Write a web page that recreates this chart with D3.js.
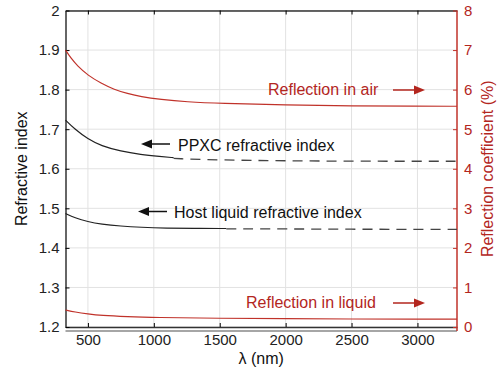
<!DOCTYPE html>
<html>
<head>
<meta charset="utf-8">
<script src="https://cdn.jsdelivr.net/npm/d3@7"></script>
<style>
  body { margin: 0; background: #fff; }
  text { font-family: "Liberation Sans", Arial, sans-serif; }
</style>
</head>
<body>
<div id="chart"></div>
<script>
// wavelength (nm) samples
const airLambda = [330, 370, 420, 500, 600, 700, 800, 900, 1050, 1250, 1500, 2000, 2500, 3000, 3300];
const airRefl = [7.0, 6.8, 6.6, 6.36, 6.16, 6.0, 5.9, 5.82, 5.75, 5.69, 5.65, 5.61, 5.59, 5.58, 5.58];

const liqLambda = [330, 400, 500, 600, 800, 1000, 1500, 2000, 2500, 3000, 3300];
const liqRefl = [0.43, 0.38, 0.33, 0.29, 0.26, 0.24, 0.22, 0.21, 0.2, 0.2, 0.2];

const ppxcLambda = [330, 400, 500, 600, 750, 900, 1050, 1150];
const ppxcIndex = [1.723, 1.700, 1.675, 1.658, 1.644, 1.636, 1.631, 1.628];
const ppxcDashLambda = [1150, 1500, 2000, 2500, 3000, 3300];
const ppxcDashIndex = [1.626, 1.622, 1.620, 1.619, 1.619, 1.619];

const hostLambda = [330, 400, 500, 600, 750, 900, 1100, 1300, 1550];
const hostIndex = [1.487, 1.476, 1.466, 1.460, 1.455, 1.452, 1.450, 1.449, 1.449];
const hostDashLambda = [1550, 2000, 2500, 3000, 3300];
const hostDashIndex = [1.448, 1.448, 1.447, 1.447, 1.447];

const xTicks = [500, 1000, 1500, 2000, 2500, 3000];
const yLeftTicks = [1.2, 1.3, 1.4, 1.5, 1.6, 1.7, 1.8, 1.9, 2];
const yRightTicks = [0, 1, 2, 3, 4, 5, 6, 7, 8];

const width = 497, height = 379;
const margin = { top: 10.5, right: 40, bottom: 52, left: 65.5 };
const red = "#c0322a";
const redText = "#b3261e";

const svg = d3.select("#chart").append("svg")
  .attr("width", width).attr("height", height);

const x = d3.scaleLinear().domain([330, 3300]).range([margin.left, width - margin.right]);
const yL = d3.scaleLinear().domain([1.2, 2]).range([height - margin.bottom, margin.top]);
const yR = d3.scaleLinear().domain([0, 8]).range([height - margin.bottom, margin.top]);

// grid
const grid = svg.append("g").attr("stroke", "#e2e2e2").attr("stroke-width", 1);
grid.selectAll(".gx").data(xTicks).enter().append("line")
  .attr("x1", d => x(d)).attr("x2", d => x(d))
  .attr("y1", margin.top).attr("y2", height - margin.bottom);
grid.selectAll(".gy").data(yLeftTicks).enter().append("line")
  .attr("x1", margin.left).attr("x2", width - margin.right)
  .attr("y1", d => yL(d)).attr("y2", d => yL(d));

// second (shadow) bottom line under the axis
svg.append("line")
  .attr("x1", margin.left).attr("x2", width - margin.right)
  .attr("y1", height - margin.bottom + 4).attr("y2", height - margin.bottom + 4)
  .attr("stroke", "#888").attr("stroke-width", 1.5);

// axes
const xAxis = svg.append("g")
  .attr("transform", `translate(0,${height - margin.bottom})`)
  .call(d3.axisBottom(x).tickValues(xTicks).tickSizeInner(-4).tickSizeOuter(0).tickPadding(7)
    .tickFormat(d3.format("d")));
xAxis.select(".domain").attr("stroke", "#333").attr("stroke-width", 1.5);
xAxis.selectAll("text").attr("font-size", 15).attr("fill", "#222");

const xTop = svg.append("g")
  .attr("transform", `translate(0,${margin.top})`)
  .call(d3.axisTop(x).tickValues(xTicks).tickSizeInner(-4).tickSizeOuter(0).tickFormat(""));
xTop.select(".domain").attr("stroke", "#333").attr("stroke-width", 1.5);

const yAxisL = svg.append("g")
  .attr("transform", `translate(${margin.left},0)`)
  .call(d3.axisLeft(yL).tickValues(yLeftTicks).tickSizeInner(-4).tickSizeOuter(0).tickPadding(6)
    .tickFormat(d3.format("")));
yAxisL.select(".domain").attr("stroke", "#333").attr("stroke-width", 1.5);
yAxisL.selectAll("text").attr("font-size", 15).attr("fill", "#222");

const yAxisR = svg.append("g")
  .attr("transform", `translate(${width - margin.right},0)`)
  .call(d3.axisRight(yR).tickValues(yRightTicks).tickSizeInner(-4).tickSizeOuter(0).tickPadding(7));
yAxisR.select(".domain").attr("stroke", red).attr("stroke-width", 1.5)
  .attr("d", `M0,${margin.top}V${height - margin.bottom + 4}`);
yAxisR.selectAll("line").attr("stroke", red);
yAxisR.selectAll("text").attr("font-size", 15).attr("fill", redText);

// axis labels
svg.append("text")
  .attr("transform", `translate(21,${(margin.top + height - margin.bottom) / 2}) rotate(-90)`)
  .attr("text-anchor", "middle").attr("dy", "0.35em").attr("font-size", 16).attr("fill", "#111")
  .text("Refractive index");
svg.append("text")
  .attr("transform", `translate(487,${(margin.top + height - margin.bottom) / 2}) rotate(-90)`)
  .attr("text-anchor", "middle").attr("dy", "0.35em").attr("font-size", 16).attr("fill", redText)
  .text("Reflection coefficient (%)");
svg.append("text")
  .attr("x", (margin.left + width - margin.right) / 2).attr("y", 364)
  .attr("text-anchor", "middle").attr("font-size", 16).attr("fill", "#111")
  .text("λ (nm)");

// curves
const lineL = d3.line().x(d => x(d[0])).y(d => yL(d[1])).curve(d3.curveBasis);
const lineR = d3.line().x(d => x(d[0])).y(d => yR(d[1])).curve(d3.curveBasis);

svg.append("path").datum(d3.zip(airLambda, airRefl))
  .attr("d", lineR).attr("fill", "none").attr("stroke", red).attr("stroke-width", 1.2);
svg.append("path").datum(d3.zip(liqLambda, liqRefl))
  .attr("d", lineR).attr("fill", "none").attr("stroke", red).attr("stroke-width", 1.2);

svg.append("path").datum(d3.zip(ppxcLambda, ppxcIndex))
  .attr("d", lineL).attr("fill", "none").attr("stroke", "#222").attr("stroke-width", 1.2);
svg.append("path").datum(d3.zip(ppxcDashLambda, ppxcDashIndex))
  .attr("d", lineL).attr("fill", "none").attr("stroke", "#444").attr("stroke-width", 1.3)
  .attr("stroke-dasharray", "10,7");

svg.append("path").datum(d3.zip(hostLambda, hostIndex))
  .attr("d", lineL).attr("fill", "none").attr("stroke", "#222").attr("stroke-width", 1.2);
svg.append("path").datum(d3.zip(hostDashLambda, hostDashIndex))
  .attr("d", lineL).attr("fill", "none").attr("stroke", "#444").attr("stroke-width", 1.3)
  .attr("stroke-dasharray", "10,7");

// annotations with arrows
function arrow(x1, x2, y, color) {
  const dir = Math.sign(x2 - x1);
  svg.append("line")
    .attr("x1", x1).attr("x2", x2 - dir * 8).attr("y1", y).attr("y2", y)
    .attr("stroke", color).attr("stroke-width", 1.5);
  svg.append("path")
    .attr("d", `M${x2},${y}L${x2 - dir * 11},${y - 4.5}L${x2 - dir * 11},${y + 4.5}Z`)
    .attr("fill", color);
}
function label(xp, yp, txt, color) {
  svg.append("text").attr("x", xp).attr("y", yp).attr("dy", "0.35em")
    .attr("font-size", 16).attr("fill", color).text(txt);
}

label(268, 89, "Reflection in air", redText);
arrow(393, 425, 90, redText);
label(178, 145, "PPXC refractive index", "#111");
arrow(170, 141, 144, "#111");
label(174, 212, "Host liquid refractive index", "#111");
arrow(167, 138, 211.5, "#111");
label(246, 302, "Reflection in liquid", redText);
arrow(393, 425, 303, redText);
</script>
</body>
</html>
